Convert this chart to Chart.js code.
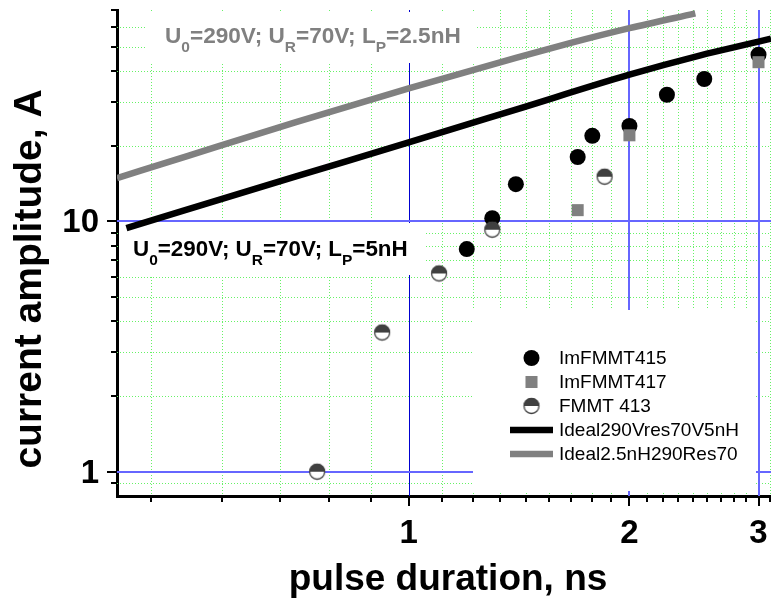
<!DOCTYPE html>
<html><head><meta charset="utf-8">
<script src="https://cdn.jsdelivr.net/npm/chart.js@4/dist/chart.umd.min.js"></script>
<style>html,body{margin:0;padding:0;background:#fff;}canvas{display:block;}</style>
</head><body>
<canvas id="c" width="771" height="600"></canvas>
<script>
// ---- data ----
const im415X = [1.2, 1.3, 1.4, 1.7, 1.78, 2.0, 2.25, 2.53, 3.0];
const im415Y = [7.76, 10.3, 14.1, 18.1, 22.0, 24.1, 32.1, 37.1, 46.4];
const im417X = [1.7, 2.0, 3.0];
const im417Y = [11.1, 22.1, 43.3];
const f413X = [0.75, 0.92, 1.1, 1.3, 1.85];
const f413Y = [1.0, 3.6, 6.2, 9.27, 15.1];
const ideal5X = [0.412, 0.7, 1.0, 1.4, 2.0, 2.5, 3.0, 3.12];
const ideal5Y = [9.41, 15.1, 20.7, 28.0, 38.6, 46.1, 52.3, 53.8];
const ideal25X = [0.4, 0.5, 0.7, 1.0, 1.4, 1.664, 2.0, 2.46];
const ideal25Y = [14.9, 18.3, 24.9, 34.0, 45.1, 51.7, 59.2, 67.9];
const seriesNames = ['ImFMMT415', 'ImFMMT417', 'FMMT 413', 'Ideal290Vres70V5nH', 'Ideal2.5nH290Res70'];

const xMajorTicks = [1, 2, 3];
const xMinorTicks = [0.4444, 0.5556, 0.6667, 0.7778, 0.8889,
  1.1111, 1.2222, 1.3333, 1.4444, 1.5556, 1.6667, 1.7778, 1.8889,
  2.1111, 2.2222, 2.3333, 2.4444, 2.5556, 2.6667, 2.7778, 2.8889, 3.1111];
const yMajorTicks = [1, 10];
const yMinorTicks = [0.9, 2, 3, 4, 5, 6, 7, 8, 9, 20, 30, 40, 50, 60, 70];

const xTitle = 'pulse duration, ns';
const yTitle = 'current amplitude, A';
const labelUpper = [['U', 0], ['0', 1], ['=290V; U', 0], ['R', 1], ['=70V; L', 0], ['P', 1], ['=2.5nH', 0]];
const labelLower = [['U', 0], ['0', 1], ['=290V; U', 0], ['R', 1], ['=70V; L', 0], ['P', 1], ['=5nH', 0]];

// ---- helpers ----
const FONT = "'Liberation Sans', Arial, sans-serif";
function zip(xs, ys) { return xs.map((x, i) => ({ x: x, y: ys[i] })); }
function halfCircle(r) {
  const s = Math.ceil(2 * r + 4);
  const c = document.createElement('canvas'); c.width = s; c.height = s;
  const g = c.getContext('2d'); const cx = s / 2, cy = s / 2;
  g.beginPath(); g.arc(cx, cy, r, 0, 2 * Math.PI); g.fillStyle = '#fff'; g.fill();
  g.beginPath(); g.arc(cx, cy, r, Math.PI, 2 * Math.PI); g.closePath(); g.fillStyle = '#404040'; g.fill();
  g.beginPath(); g.arc(cx, cy, r - 0.5, 0, 2 * Math.PI); g.lineWidth = 1.3; g.strokeStyle = '#404040'; g.stroke();
  return c;
}
const halfImg = halfCircle(8);

function drawSubText(ctx, x, y, parts, color, size, subSize) {
  ctx.save();
  ctx.fillStyle = color; ctx.textBaseline = 'alphabetic'; ctx.textAlign = 'left';
  for (const [t, sub] of parts) {
    ctx.font = 'bold ' + (sub ? subSize : size) + 'px ' + FONT;
    ctx.fillText(t, x, sub ? y + 9 : y);
    x += ctx.measureText(t).width;
  }
  ctx.restore();
}

const decor = {
  id: 'decor',
  beforeDatasetsDraw(chart) {
    const { ctx, chartArea: a, scales } = chart;
    const xs = scales.x, ys = scales.y;
    ctx.save();
    ctx.beginPath(); ctx.rect(a.left, a.top, a.right - a.left, a.bottom - a.top); ctx.clip();
    // minor grid (green dotted)
    ctx.strokeStyle = '#66f266'; ctx.lineWidth = 1; ctx.setLineDash([1, 2]);
    for (const v of xMinorTicks) {
      const p = Math.round(xs.getPixelForValue(v)) + 0.5;
      ctx.beginPath(); ctx.moveTo(p, a.top); ctx.lineTo(p, a.bottom); ctx.stroke();
    }
    for (const v of yMinorTicks) {
      if (v >= ys.max * 0.99) continue;
      const p = Math.round(ys.getPixelForValue(v)) + 0.5;
      ctx.beginPath(); ctx.moveTo(a.left, p); ctx.lineTo(a.right, p); ctx.stroke();
    }
    ctx.setLineDash([]);
    // major grid (blue)
    for (const v of xMajorTicks) {
      if (v === 1) {
        const p = Math.round(xs.getPixelForValue(v)) + 0.5;
        ctx.strokeStyle = '#0000d0'; ctx.lineWidth = 1;
        ctx.beginPath(); ctx.moveTo(p, a.top); ctx.lineTo(p, a.bottom); ctx.stroke();
      } else {
        const p = Math.round(xs.getPixelForValue(v));
        ctx.strokeStyle = '#6666ff'; ctx.lineWidth = 2;
        ctx.beginPath(); ctx.moveTo(p, a.top); ctx.lineTo(p, a.bottom); ctx.stroke();
      }
    }
    ctx.strokeStyle = '#6666ff'; ctx.lineWidth = 2;
    for (const v of yMajorTicks) {
      const p = Math.round(ys.getPixelForValue(v));
      ctx.beginPath(); ctx.moveTo(a.left, p); ctx.lineTo(a.right, p); ctx.stroke();
    }
    // white boxes behind labels and legend
    ctx.fillStyle = '#fff';
    ctx.fillRect(145, 12, 332, 51);
    ctx.fillRect(a.left + 2, 223, 307, 52);
    ctx.fillRect(473, 310, 283, 181);
    ctx.restore();

    // text labels
    drawSubText(ctx, 165, 43, labelUpper, '#808080', 22.6, 15.5);
    drawSubText(ctx, 133, 256, labelLower, '#000', 22.4, 15.5);

    // tick marks
    ctx.save();
    ctx.strokeStyle = '#000'; ctx.lineWidth = 2;
    const drawY = (v, len) => {
      const p = Math.round(ys.getPixelForValue(v));
      ctx.beginPath(); ctx.moveTo(a.left - len, p); ctx.lineTo(a.left, p); ctx.stroke();
    };
    const drawX = (v, len) => {
      const p = Math.round(xs.getPixelForValue(v));
      ctx.beginPath(); ctx.moveTo(p, a.bottom); ctx.lineTo(p, a.bottom + len); ctx.stroke();
    };
    yMajorTicks.forEach(v => drawY(v, 10));
    yMinorTicks.forEach(v => drawY(v, 6));
    xMajorTicks.forEach(v => drawX(v, 10));
    xMinorTicks.forEach(v => drawX(v, 6));

    // tick labels
    ctx.fillStyle = '#000';
    ctx.font = 'bold 33px ' + FONT;
    ctx.textBaseline = 'alphabetic';
    ctx.textAlign = 'center';
    xMajorTicks.forEach(v => ctx.fillText(String(v), xs.getPixelForValue(v), 543));
    ctx.textAlign = 'right';
    yMajorTicks.forEach(v => ctx.fillText(String(v), 99, ys.getPixelForValue(v) + 11));
    ctx.restore();

    // axis titles
    ctx.save();
    ctx.fillStyle = '#000';
    ctx.font = 'bold 37px ' + FONT;
    ctx.textAlign = 'center'; ctx.textBaseline = 'alphabetic';
    ctx.fillText(xTitle, 448, 590);
    ctx.translate(41, 279); ctx.rotate(-Math.PI / 2);
    ctx.font = 'bold 39px ' + FONT;
    ctx.fillText(yTitle, 0, 0);
    ctx.restore();
  },
  afterDraw(chart) {
    const { ctx } = chart;
    const rows = [358, 382, 406, 430, 454];
    ctx.save();
    chart.data.datasets.forEach((ds, i) => {
      const y = rows[i];
      if (ds.showLine) {
        ctx.strokeStyle = ds.borderColor; ctx.lineWidth = ds.borderWidth;
        ctx.beginPath(); ctx.moveTo(510, y); ctx.lineTo(553, y); ctx.stroke();
      } else if (ds.pointStyle === 'circle') {
        ctx.fillStyle = ds.backgroundColor;
        ctx.beginPath(); ctx.arc(531.5, y, ds.pointRadius, 0, 2 * Math.PI); ctx.fill();
      } else if (ds.pointStyle === 'rect') {
        const h = ds.pointRadius * Math.SQRT1_2;
        ctx.fillStyle = ds.backgroundColor;
        ctx.fillRect(531.5 - h, y - h, 2 * h, 2 * h);
      } else {
        const im = ds.pointStyle;
        ctx.drawImage(im, 531.5 - im.width / 2, y - im.height / 2);
      }
      ctx.fillStyle = '#000'; ctx.font = '19px ' + FONT;
      ctx.textAlign = 'left'; ctx.textBaseline = 'middle';
      ctx.fillText(ds.label, 559, y + 1);
    });
    ctx.restore();
  }
};

new Chart(document.getElementById('c'), {
  type: 'scatter',
  data: {
    datasets: [
      { label: seriesNames[0], data: zip(im415X, im415Y), pointStyle: 'circle', pointRadius: 8,
        backgroundColor: '#000', borderColor: '#000', borderWidth: 0, showLine: false, order: 3 },
      { label: seriesNames[1], data: zip(im417X, im417Y), pointStyle: 'rect', pointRadius: 8.5,
        backgroundColor: '#808080', borderColor: '#808080', borderWidth: 0, showLine: false, order: 2 },
      { label: seriesNames[2], data: zip(f413X, f413Y), pointStyle: halfImg, pointRadius: 8,
        backgroundColor: '#404040', borderColor: '#404040', borderWidth: 0, showLine: false, order: 1 },
      { label: seriesNames[3], data: zip(ideal5X, ideal5Y), showLine: true, pointRadius: 0,
        borderColor: '#000', backgroundColor: '#000', borderWidth: 6.5, borderCapStyle: 'butt',
        cubicInterpolationMode: 'monotone', order: 5 },
      { label: seriesNames[4], data: zip(ideal25X, ideal25Y), showLine: true, pointRadius: 0,
        borderColor: '#808080', backgroundColor: '#808080', borderWidth: 6.5, borderCapStyle: 'butt',
        cubicInterpolationMode: 'monotone', order: 4 }
    ]
  },
  options: {
    responsive: false, animation: false, devicePixelRatio: 1,
    layout: { autoPadding: false, padding: { left: 0, top: 10, right: 0, bottom: 0 } },
    plugins: { legend: { display: false }, tooltip: { enabled: false } },
    scales: {
      x: {
        type: 'logarithmic', min: 0.4, max: 3.12, position: 'bottom',
        afterBuildTicks: s => { s.ticks = xMajorTicks.map(v => ({ value: v, major: true })); },
        afterFit: s => { s.height = 104; },
        ticks: { display: false },
        grid: { display: false, drawTicks: false },
        border: { display: true, color: '#000', width: 3 }
      },
      y: {
        type: 'logarithmic', min: 0.8, max: 70, position: 'left',
        afterBuildTicks: s => { s.ticks = yMajorTicks.map(v => ({ value: v, major: true })); },
        afterFit: s => { s.width = 117; },
        ticks: { display: false },
        grid: { display: false, drawTicks: false },
        border: { display: true, color: '#000', width: 3 }
      }
    }
  },
  plugins: [decor]
});
</script>
</body></html>
